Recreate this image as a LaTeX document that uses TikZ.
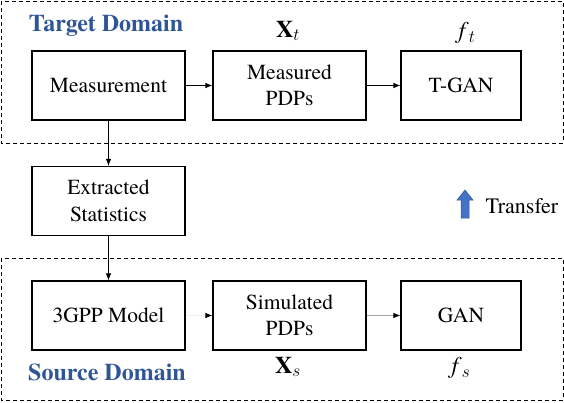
\documentclass[tikz,border=0pt]{standalone}
\usepackage{fontspec}
\IfFontExistsTF{texgyretermes-regular.otf}{%
  \setmainfont{texgyretermes}[Extension=.otf, UprightFont=*-regular, BoldFont=*-bold,
    ItalicFont=*-italic, BoldItalicFont=*-bolditalic]}{%
  \setmainfont{Liberation Serif}}
\usepackage{amsmath}
\usetikzlibrary{positioning,arrows.meta}
\definecolor{domainblue}{RGB}{47,85,151}
\definecolor{arrowblue}{RGB}{68,114,196}
\definecolor{arrowedge}{RGB}{50,88,150}
\tikzset{
  block/.style={draw, line width=1.1pt, minimum height=69pt, align=center, inner sep=2pt,
    font=\fontsize{21.5}{26.5}\selectfont},
  domainframe/.style={draw, dashed, line width=0.9pt, dash pattern=on 4pt off 3pt},
  domaintitle/.style={text=domainblue, font=\fontsize{24}{28}\selectfont\bfseries},
  varlabel/.style={font=\fontsize{24}{28}\selectfont},
  link/.style={line width=0.8pt, -{Latex[black,length=7pt,width=5.5pt]}}
}
\begin{document}
\begin{tikzpicture}[x=1pt, y=-1pt, >=latex]
        \useasboundingbox (0,0) rectangle (564,402);
        % ==== DOMAIN FRAMES ====
        \draw[domainframe] (1,1) rectangle (563,143);
        \draw[domainframe] (1,258) rectangle (563,400);
        \node[domaintitle] (target) at (106,26) {Target Domain};
        \node[domaintitle] (source) at (107,372) {Source Domain};
        % ==== TARGET ROW ====
        \node[block, minimum width=153pt] (meas) at (108.5,85.5) {Measurement};
        \node[block, minimum width=153pt] (mpdp) at (289.5,85.5) {Measured\\PDPs};
        \node[block, minimum width=120pt] (tgan) at (461,85.5) {T-GAN};
        \node[varlabel] (xt) at (288,31) {\textbf{X}$_t$};
        \node[varlabel] (ft) at (467,33) {\textit{f}$_t$};
        % ==== STATISTICS ====
        \node[block, minimum width=153pt] (stat) at (108.5,201) {Extracted\\Statistics};
        % ==== SOURCE ROW ====
        \node[block, minimum width=153pt] (gpp) at (108.5,315.5) {3GPP Model};
        \node[block, minimum width=153pt] (spdp) at (289.5,315.5) {Simulated\\PDPs};
        \node[block, minimum width=120pt] (gan) at (461,315.5) {GAN};
        \node[varlabel] (xs) at (288,367) {\textbf{X}$_s$};
        \node[varlabel] (fs) at (461,368) {\textit{f}$_s$};
        % ==== CONNECTIONS ====
        \draw[link] (meas) -- (mpdp);
        \draw[link] (mpdp) -- (tgan);
        \draw[link] (meas) -- (stat);
        \draw[link] (stat) -- (gpp);
        \draw[link, draw=black!6] (gpp) -- (spdp);
        \draw[link, draw=black!35] (spdp) -- (gan);
        % ==== TRANSFER ====
        \draw[fill=arrowblue, draw=arrowedge, line width=0.5pt]
            (461,218) -- (461,200) -- (457,200) -- (465,190) -- (473,200) -- (469,200) -- (469,218) -- cycle;
        \node[anchor=west, font=\fontsize{22}{26}\selectfont] (transfer) at (482,206) {Transfer};
\end{tikzpicture}
\end{document}
